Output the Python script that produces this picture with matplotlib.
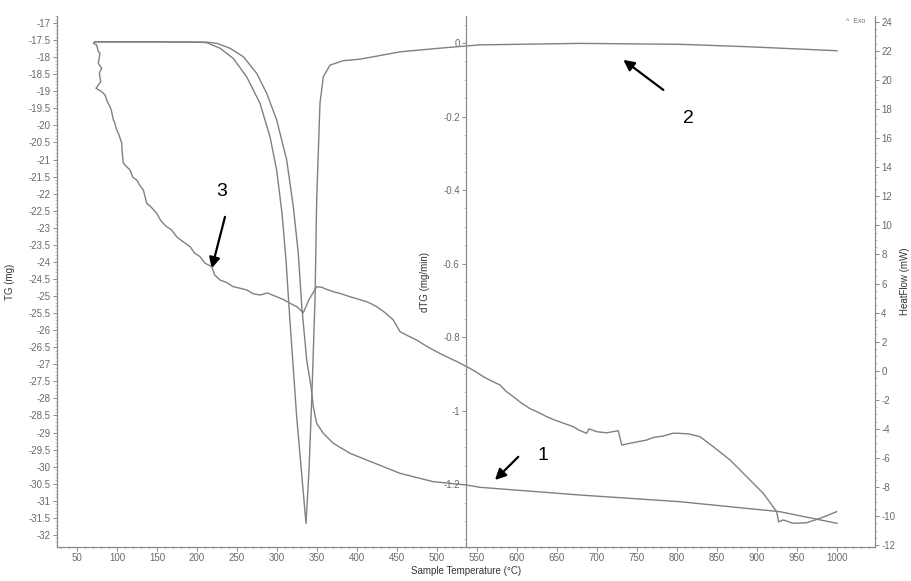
import matplotlib
matplotlib.use("Agg")
import matplotlib.pyplot as plt
from matplotlib.ticker import MultipleLocator, FormatStrFormatter

plt.rcParams['font.family'] = ['Liberation Sans', 'DejaVu Sans']
plt.rcParams['axes.unicode_minus'] = False

# ---------------- data ----------------
tg_T = [72.5, 150, 212, 224.6, 241.25, 257.9, 274.6, 287.1, 299.6, 312.1, 320.4, 326.6,
        331, 337.1, 342.5, 345.4, 349.6, 357.9, 370.4, 391.25, 412.1, 453.75, 495.4,
        537.1, 553.75, 678.75, 803.75, 928.75, 1000]
tg_v = [-17.55, -17.55, -17.56, -17.595, -17.741, -17.987, -18.474, -19.06, -19.842,
        -21.014, -22.382, -23.748, -25.312, -26.874, -27.656, -28.242, -28.729, -29.022,
        -29.315, -29.608, -29.804, -30.194, -30.44, -30.537, -30.604, -30.83, -31.026,
        -31.319, -31.659]

dtg_T = [72.5, 150, 203.75, 212, 228.75, 245.4, 262.1, 278.75, 291.25, 299.6, 306.25,
         311.25, 315, 324.6, 336.25, 340, 343.4, 347.5, 349.6, 351.6, 353.75, 357.9,
         366.25, 382.9, 403.75, 453.75, 503.75, 553.75, 678.75, 803.75, 887.5, 1000]
dtg_v = [0.003, 0.003, 0.002, 0.001, -0.014, -0.042, -0.092, -0.164, -0.255, -0.346,
         -0.463, -0.590, -0.718, -1.017, -1.307, -1.162, -0.971, -0.699, -0.427, -0.299,
         -0.163, -0.092, -0.060, -0.048, -0.044, -0.024, -0.014, -0.005, -0.001, -0.0035,
         -0.010, -0.021]

hf_T = [72.5, 70.4, 74.6, 76.6, 78.75, 76.6, 80.9, 77.9, 79.6, 73.75, 80.9, 85, 88, 91.25,
        93, 95.4, 97, 99.6, 102, 105.9, 106.5, 107.9, 111, 116.25, 120, 124.6, 128, 132.9,
        135, 137.1, 142, 149.6, 155, 162.1, 168, 174.6, 182, 191.25, 197, 203.75, 210,
        218.4, 222, 228.75, 236, 245.4, 252, 262.1, 270, 278.75, 288, 299.6, 308, 316.25,
        325, 332.9, 340, 349.6, 355.9, 362, 370.4, 380, 391.25, 400, 412.1, 418, 424.6,
        435, 445.4, 453.75, 462, 474.6, 485, 495.4, 505, 516.25, 526, 537.1, 548, 557.9,
        568, 578.75, 586, 595.4, 605, 616, 626, 637.1, 645, 655, 670.4, 678, 687.1, 690,
        700, 712.1, 726.6, 730.9, 745, 762.1, 770, 782.9, 795, 803.75, 815, 828.75, 845.4,
        866.25, 887.1, 907.9, 924.6, 927, 932.9, 945.4, 962.1, 978.75, 999.6]
hf_v = [22.64, 22.53, 22.42, 21.96, 21.85, 21.16, 20.81, 20.47, 19.89, 19.44, 19.2, 18.98,
        18.5, 18.17, 17.9, 17.26, 17.1, 16.57, 16.3, 15.67, 15.0, 14.28, 14.1, 13.81, 13.3,
        13.13, 12.8, 12.44, 12.0, 11.52, 11.3, 10.83, 10.3, 9.91, 9.7, 9.22, 8.9, 8.54, 8.1,
        7.85, 7.4, 7.16, 6.6, 6.24, 6.1, 5.78, 5.7, 5.56, 5.3, 5.21, 5.35, 5.09, 4.9, 4.64,
        4.4, 3.99, 4.9, 5.78, 5.74, 5.6, 5.44, 5.3, 5.09, 4.95, 4.75, 4.6, 4.41, 4.0, 3.49,
        2.69, 2.45, 2.11, 1.75, 1.43, 1.15, 0.85, 0.6, 0.28, -0.05, -0.41, -0.7, -0.98, -1.4,
        -1.79, -2.2, -2.6, -2.85, -3.16, -3.35, -3.55, -3.85, -4.1, -4.31, -4.0, -4.2, -4.27,
        -4.13, -5.11, -4.95, -4.77, -4.6, -4.49, -4.3, -4.31, -4.35, -4.54, -5.23, -6.14,
        -7.29, -8.44, -9.70, -10.4, -10.27, -10.50, -10.46, -10.16, -9.70]

x_ticks = list(range(50, 1001, 50))
tg_ticks = [-17 - 0.5 * i for i in range(31)]
dtg_ticks = [0, -0.2, -0.4, -0.6, -0.8, -1.0, -1.2]
hf_ticks = list(range(-12, 25, 2))

# ---------------- figure ----------------
fig = plt.figure(figsize=(9.12, 5.81), dpi=100)
ax = fig.add_axes([57 / 912, 1 - 547 / 581, 818 / 912, 531 / 581])
ax_hf = ax.twinx()
ax_dtg = ax.twinx()

line_c = '#808080'
spine_c = '#8a8a8a'
tick_c = '#6a6a6a'
fs = 7

ax.plot(tg_T, tg_v, color=line_c, lw=1.0)
ax_dtg.plot(dtg_T, dtg_v, color=line_c, lw=1.0)
ax_hf.plot(hf_T, hf_v, color=line_c, lw=1.0)

ax.set_xlim(25, 1047.5)
ax.set_ylim(-32.353, -16.795)
ax_hf.set_ylim(-12.13, 24.41)
ax_dtg.set_ylim(-1.371, 0.0735)

# spines
for a in (ax, ax_hf, ax_dtg):
    for s in a.spines.values():
        s.set_color(spine_c)
        s.set_linewidth(0.9)
    a.spines['top'].set_visible(False)

ax.spines['right'].set_visible(False)
ax_dtg.spines['right'].set_visible(False)
ax_dtg.spines['bottom'].set_visible(False)
ax_dtg.spines['left'].set_visible(True)
ax_dtg.spines['left'].set_position(('axes', 0.5))
ax_dtg.yaxis.set_ticks_position('left')
ax_dtg.yaxis.set_label_position('left')
ax_hf.spines['left'].set_visible(False)
ax_hf.spines['bottom'].set_visible(False)

# ticks
ax.set_xticks(x_ticks)
ax.xaxis.set_minor_locator(MultipleLocator(10))
ax.set_yticks(tg_ticks)
ax.yaxis.set_major_formatter(FormatStrFormatter('%g'))
ax.yaxis.set_minor_locator(MultipleLocator(0.1))
ax_hf.set_yticks(hf_ticks)
ax_hf.yaxis.set_minor_locator(MultipleLocator(0.5))
ax_dtg.set_yticks(dtg_ticks)
ax_dtg.yaxis.set_major_formatter(FormatStrFormatter('%g'))
ax_dtg.yaxis.set_minor_locator(MultipleLocator(0.05))

for a in (ax, ax_hf, ax_dtg):
    a.tick_params(which='major', labelsize=fs, labelcolor=tick_c, color=spine_c,
                  length=3, width=0.7, pad=1.5)
    a.tick_params(which='minor', color='#b0b0b0', length=1.5, width=0.5)

# axis labels
ax.set_ylabel('TG (mg)', fontsize=fs, color='#333333')
ax.yaxis.set_label_coords(-0.051, 0.5)
ax_dtg.set_ylabel('dTG (mg/min)', fontsize=fs, color='#333333')
ax_dtg.yaxis.set_label_coords(0.456, 0.5)
ax_hf.set_ylabel('HeatFlow (mW)', fontsize=fs, color='#333333')
ax_hf.yaxis.set_label_coords(1.031, 0.5)
ax.set_xlabel('Sample Temperature (°C)', fontsize=fs, color='#333333', labelpad=2)

ax.text(0.977, 0.989, '^  Exo', transform=ax.transAxes, fontsize=5, color='#777777',
        ha='center', va='center')

# numbered arrows
arrow_kw = dict(arrowstyle='-|>', color='black', lw=1.6, mutation_scale=16,
                shrinkA=0, shrinkB=0)
ax.annotate('', xy=(218.4, -24.19), xytext=(235, -22.68), arrowprops=arrow_kw)
ax.text(230.9, -22.19, '3', fontsize=14, ha='center', va='bottom', color='black')
ax.annotate('', xy=(732.9, -18.08), xytext=(782.9, -18.96), arrowprops=arrow_kw)
ax.text(814.1, -19.79, '2', fontsize=14, ha='center', va='center', color='black')
ax.annotate('', xy=(572.5, -30.39), xytext=(601.6, -29.71), arrowprops=arrow_kw)
ax.text(632.9, -29.66, '1', fontsize=14, ha='center', va='center', color='black')

fig.savefig('out.png', dpi=100)
